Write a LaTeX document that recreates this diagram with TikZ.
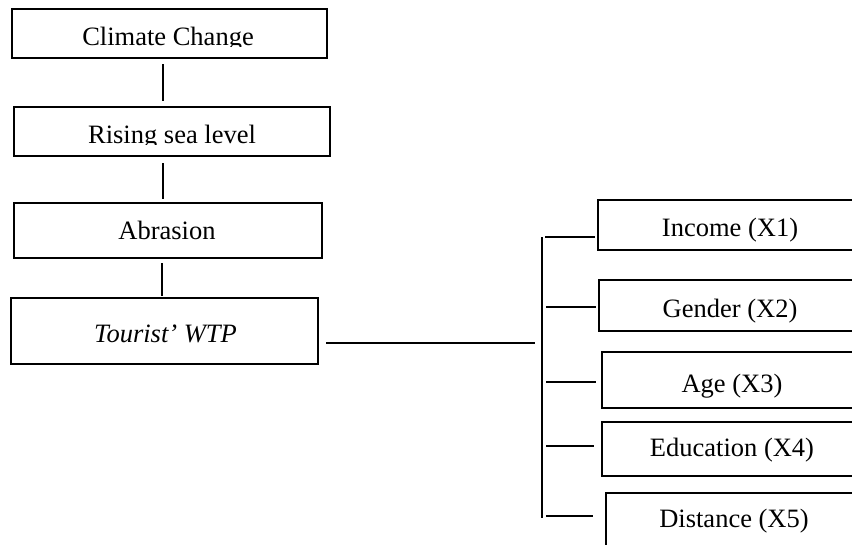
\documentclass[tikz,border=0pt]{standalone}
\usepackage{fontspec}
\setmainfont{Liberation Serif}
\begin{document}
\begin{tikzpicture}[x=1pt,y=-1pt,
  box/.style={draw=black,line width=2pt,rectangle,inner sep=0pt},
  conn/.style={draw=black,line width=1.5pt},
  txt/.style={inner sep=0pt,anchor=base,font=\fontsize{26.5}{30}\selectfont}]
\useasboundingbox (0,0) rectangle (852,544);
\clip (0,0) rectangle (852,544);
% left column boxes
\node[box,minimum width=315pt,minimum height=49pt] (cc)  at (169.5,33.5) {};
\node[box,minimum width=316pt,minimum height=49pt] (rsl) at (172,131.5) {};
\node[box,minimum width=308pt,minimum height=55pt] (abr) at (168,230.5) {};
\node[box,minimum width=307pt,minimum height=66pt] (wtp) at (164.5,331) {};
% right column boxes
\node[box,minimum width=264pt,minimum height=50pt] (inc)  at (730,225) {};
\node[box,minimum width=263pt,minimum height=51pt] (gen)  at (730.5,305.5) {};
\node[box,minimum width=260pt,minimum height=56pt] (age)  at (732,380) {};
\node[box,minimum width=260pt,minimum height=54pt] (edu)  at (732,449) {};
\node[box,minimum width=264pt,minimum height=67pt] (dist) at (738,526.5) {};
% texts
\begin{scope}
\clip (0,0) rectangle (852,46);
\node[txt] (tcc) at (168,45) {Climate Change};
\end{scope}
\begin{scope}
\clip (0,100) rectangle (852,144);
\node[txt] (trsl) at (172,143) {Rising sea level};
\end{scope}
\node[txt] (tabr) at (167,239) {Abrasion};
\node[txt] (twtp) at (165.5,342) {\itshape Tourist’ WTP};
\node[txt] (tinc) at (730,236) {Income (X1)};
\node[txt] (tgen) at (730,317) {Gender (X2)};
\node[txt] (tage) at (732,392) {Age (X3)};
\node[txt] (tedu) at (732,456) {Education (X4)};
\node[txt] (tdist) at (734,527) {Distance (X5)};
% vertical chain
\coordinate (sp) at (163,0);
\draw[conn,shorten <=5pt,shorten >=5pt] (cc.south -| sp) -- (rsl.north -| sp);
\draw[conn,shorten <=6pt,shorten >=3pt] (rsl.south -| sp) -- (abr.north -| sp);
\coordinate (sp2) at (162,0);
\draw[conn,shorten <=4pt,shorten >=1pt] (abr.south -| sp2) -- (wtp.north -| sp2);
% WTP to bracket
\coordinate (j) at (535,343);
\draw[conn,shorten <=7pt] (wtp.east |- j) -- (j);
\coordinate (btop) at (542,237);
\coordinate (bbot) at (542,518);
\draw[conn] (btop) -- (bbot);
% stubs
\coordinate (s1) at (545,237);
\coordinate (s2) at (546,307);
\coordinate (s3) at (546,382);
\coordinate (s4) at (546,446);
\coordinate (s5) at (546,516);
\draw[conn,shorten >=2pt] (s1) -- (s1 -| inc.west);
\draw[conn,shorten >=2pt] (s2) -- (s2 -| gen.west);
\draw[conn,shorten >=5pt] (s3) -- (s3 -| age.west);
\draw[conn,shorten >=7pt] (s4) -- (s4 -| edu.west);
\draw[conn,shorten >=12pt] (s5) -- (s5 -| dist.west);
\end{tikzpicture}
\end{document}
